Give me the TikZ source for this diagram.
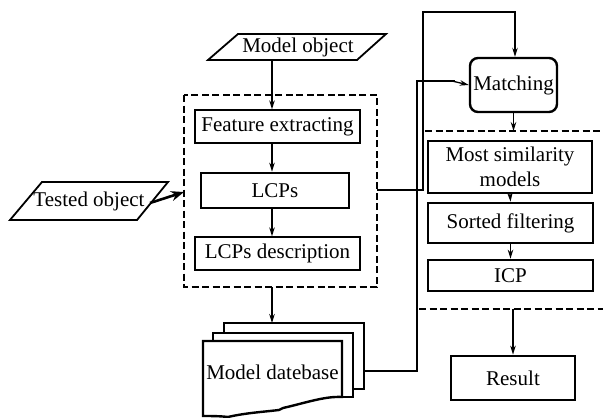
\documentclass[tikz,border=0pt]{standalone}
\usepackage{fontspec}
\setmainfont{Liberation Serif}
\usetikzlibrary{arrows.meta,calc}
\begin{document}
\begin{tikzpicture}[x=1pt,y=-1pt,
  font=\fontsize{21}{25}\selectfont,
  thinbox/.style={draw,line width=1.3pt,inner sep=0pt,align=center},
  thickbox/.style={draw,line width=2.7pt,inner sep=0pt,align=center},
  txt/.style={inner sep=0pt},
  arr/.style={line width=1.3pt,-{Stealth[length=9pt,width=5.5pt]}},
  bigarr/.style={line width=2.6pt,-{Stealth[length=13pt,width=10pt]}},
  thickline/.style={line width=2.9pt},
  dline/.style={line width=2.7pt,dash pattern=on 7pt off 3.5pt},
  docfill/.style={draw,fill=white,line width=2.4pt,line join=miter}
]
\useasboundingbox (0,0) rectangle (603,418);

% parallelograms
\draw[line width=1.8pt] (238,34) -- (386,34) -- (357,60) -- (208,60) -- cycle;
\node[txt] (model) at (298,47) {Model object};
\coordinate (mb) at (272,60);
\draw[line width=1.8pt] (42,182) -- (168,182) -- (137,220) -- (10,220) -- cycle;
\node[txt] (tested) at (89,201) {Tested object};

% left dashed group
\draw[dline] (184,95) rectangle (377,287);
\coordinate (gl) at (184,192);
\coordinate (gr) at (377,190);
\coordinate (gb) at (272,287);
\coordinate (ax) at (272,0);

\node[thinbox,minimum width=165pt,minimum height=33pt] (feat) at (277.5,126.5) {Feature extracting};
\node[thickbox,minimum width=148pt,minimum height=35pt] (lcps) at (275,190.5) {LCPs};
\node[thinbox,minimum width=165pt,minimum height=33pt] (desc) at (277.5,253.5) {LCPs description};

\draw[arr] (mb) -- (feat.north -| ax);
\draw[arr] (feat.south -| ax) -- (lcps.north -| ax);
\draw[arr] (lcps.south -| ax) -- (desc.north -| ax);

% tested arrow
\coordinate (ts) at (150,203);
\draw[bigarr] (ts) -- (gl);

% model database stack
\draw[docfill] (224,323) rectangle (364,389);
\draw[docfill] (213,333) rectangle (353,397);
\draw[docfill] (203,341) -- (342,341) -- (342,397)
  .. controls (325,396) and (305,403) .. (283,408)
  -- (279,410) .. controls (262,412) and (245,413) .. (228,417)
  .. controls (220,416) and (210,416) .. (203,416) -- cycle;
\node[txt] (db) at (272.5,372) {Model datebase};
\coordinate (dbtop) at (272,323);
\coordinate (dbr) at (364,371);
\draw[arr] (gb) -- (dbtop);

% right side
\node[draw,line width=2.4pt,rounded corners=8pt,minimum width=87pt,minimum height=54pt,inner sep=0pt] (match) at (513.5,85) {Matching};
\node[thinbox,minimum width=164pt,minimum height=52pt] (most) at (510,167) {Most similarity\\models};
\node[thickbox,minimum width=165pt,minimum height=40pt] (sorted) at (510.5,223) {Sorted filtering};
\node[thickbox,minimum width=165pt,minimum height=31pt] (icp) at (510.5,275.5) {ICP};
\node[thickbox,minimum width=124pt,minimum height=44pt] (result) at (513,378) {Result};

\coordinate (d1a) at (425,131);
\coordinate (d1b) at (603,131);
\coordinate (d2a) at (419,309);
\coordinate (d2b) at (603,309);
\draw[dline] (d1a) -- (d1b);
\draw[dline] (d2a) -- (d2b);

\draw[arr] (match.south) -- (match.south |- d1a);
\draw[arr] (most.south) -- (sorted.north);
\draw[arr] (sorted.south) -- (icp.north);
\draw[arr] (result.north |- d2a) -- (result.north);

% thick route from LCPs group to Matching
\coordinate (tc) at (515,40);
\draw[thickline,line join=miter] (gr) -- (423,190) -- (423,12) -- (515,12) -- (tc);
\draw[arr] (515,38) -- (match.north -| tc);

% database route to Matching
\coordinate (dc) at (455,81);
\draw[line width=2.2pt] (dbr) -- (417,371) -- (417,81) -- (dc);
\draw[arr] (452,81) -- (match.west);
\end{tikzpicture}
\end{document}
